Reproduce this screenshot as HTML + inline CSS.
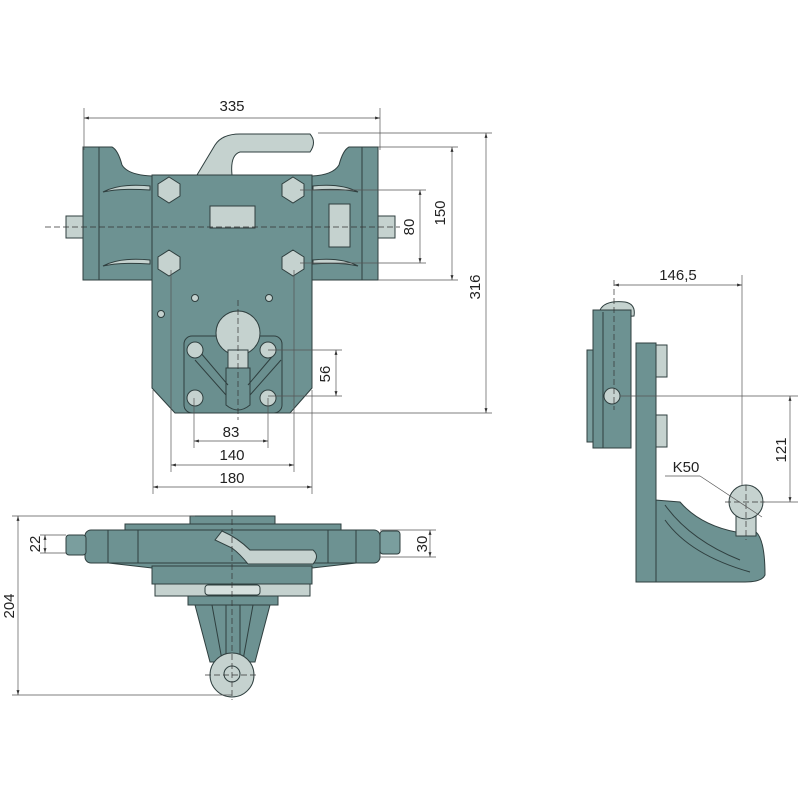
<!DOCTYPE html>
<html><head><meta charset="utf-8"><style>
html,body{margin:0;padding:0;background:#fff;width:800px;height:800px;overflow:hidden}
svg{display:block}
text{font-family:"Liberation Sans",sans-serif;font-size:15px;fill:#222}
</style></head><body>
<svg width="800" height="800" viewBox="0 0 800 800" xmlns="http://www.w3.org/2000/svg">
<defs>
<marker id="a" viewBox="0 0 10 10" refX="10" refY="5" markerWidth="7" markerHeight="7" orient="auto-start-reverse"><path d="M0,2 L10,5 L0,8z" fill="#333"/></marker>
</defs>
<g stroke="#2f3f3f" stroke-width="1">
<!-- FRONT VIEW -->
<!-- handle -->
<path d="M197,175 L215,145 Q222,134 240,134 L310,134 Q317,142 310,152 L240,152 Q230,155 232,175 Z" fill="#c5d2cf"/>
<!-- flanges -->
<path d="M83,147 L112,147 Q118,150 122,165 Q128,175 152,176 L152,280 L83,280 Z" fill="#6d9292"/>
<path d="M378,147 L349,147 Q343,150 339,165 Q333,175 312,176 L312,280 L378,280 Z" fill="#6d9292"/>
<line x1="99" y1="147" x2="99" y2="280"/><line x1="362" y1="147" x2="362" y2="280"/>
<path d="M103,192 Q120,183 150,186 L150,190 Q120,188 103,192Z" fill="#c5d2cf"/>
<path d="M103,266 Q120,257 150,260 L150,264 Q120,262 103,266Z" fill="#c5d2cf"/>
<path d="M358,192 Q341,183 313,186 L313,190 Q341,188 358,192Z" fill="#c5d2cf"/>
<path d="M358,266 Q341,257 313,260 L313,264 Q341,262 358,266Z" fill="#c5d2cf"/>
<rect x="66" y="216" width="17" height="22" fill="#c5d2cf"/>
<rect x="378" y="216" width="17" height="22" fill="#c5d2cf"/>
<!-- plate -->
<path d="M152,175 L312,175 L312,388 L290,413 L175,413 L152,388 Z" fill="#6d9292"/>
<rect x="210" y="206" width="45" height="22" fill="#c5d2cf"/>
<rect x="329" y="204" width="21" height="43" fill="#c5d2cf"/>
<g fill="#c5d2cf">
<polygon points="169,177 180,184 180,196 169,203 158,196 158,184"/>
<polygon points="293,177 304,184 304,196 293,203 282,196 282,184"/>
<polygon points="169,250 180,257 180,269 169,276 158,269 158,257"/>
<polygon points="293,250 304,257 304,269 293,276 282,269 282,257"/>
</g>
<g fill="#c5d2cf"><circle cx="195" cy="298" r="3.5"/><circle cx="269" cy="298" r="3.5"/><circle cx="161" cy="314" r="3.5"/></g>
<!-- coupling -->
<rect x="184" y="336" width="98" height="77" rx="8" fill="#6a8f8f"/>
<circle cx="238" cy="333" r="22" fill="#c5d2cf"/>
<rect x="228" y="350" width="20" height="20" fill="#c5d2cf"/>
<path d="M226,368 L250,368 L250,405 Q238,415 226,405Z" fill="#6d9292"/>
<path d="M195,360 L226,395 M281,360 L250,395 M200,352 L228,385 M276,352 L248,385" fill="none"/>
<g fill="#c5d2cf"><circle cx="195" cy="350" r="8"/><circle cx="268" cy="350" r="8"/><circle cx="195" cy="398" r="8"/><circle cx="268" cy="398" r="8"/></g>
</g>
<!-- front centerlines -->
<g stroke="#333" stroke-width="0.7" stroke-dasharray="6,3" fill="none">
<line x1="45" y1="227" x2="400" y2="227"/>
<line x1="238" y1="300" x2="238" y2="420"/>
</g>
<!-- front dims -->
<g stroke="#555" stroke-width="0.7" fill="none">
<line x1="84" y1="108" x2="84" y2="150"/><line x1="380" y1="108" x2="380" y2="150"/>
<line x1="84" y1="118" x2="380" y2="118" marker-start="url(#a)" marker-end="url(#a)"/>
<line x1="318" y1="133" x2="492" y2="133"/><line x1="378" y1="147" x2="458" y2="147"/><line x1="378" y1="280" x2="458" y2="280"/>
<line x1="452" y1="147" x2="452" y2="280" marker-start="url(#a)" marker-end="url(#a)"/>
<line x1="300" y1="190" x2="426" y2="190"/><line x1="300" y1="263" x2="426" y2="263"/>
<line x1="420" y1="190" x2="420" y2="263" marker-start="url(#a)" marker-end="url(#a)"/>
<line x1="290" y1="413" x2="492" y2="413"/>
<line x1="486" y1="133" x2="486" y2="413" marker-start="url(#a)" marker-end="url(#a)"/>
<line x1="268" y1="350" x2="342" y2="350"/><line x1="268" y1="396" x2="342" y2="396"/>
<line x1="336" y1="350" x2="336" y2="396" marker-start="url(#a)" marker-end="url(#a)"/>
<line x1="194" y1="398" x2="194" y2="448"/><line x1="268" y1="398" x2="268" y2="448"/>
<line x1="194" y1="441" x2="268" y2="441" marker-start="url(#a)" marker-end="url(#a)"/>
<line x1="171" y1="270" x2="171" y2="472"/><line x1="294" y1="270" x2="294" y2="472"/>
<line x1="171" y1="465" x2="294" y2="465" marker-start="url(#a)" marker-end="url(#a)"/>
<line x1="153" y1="390" x2="153" y2="494"/><line x1="312" y1="390" x2="312" y2="494"/>
<line x1="153" y1="487" x2="312" y2="487" marker-start="url(#a)" marker-end="url(#a)"/>
</g>
<text x="232" y="111" text-anchor="middle">335</text>
<text transform="translate(445,213) rotate(-90)" text-anchor="middle">150</text>
<text transform="translate(414,227) rotate(-90)" text-anchor="middle">80</text>
<text transform="translate(480,287) rotate(-90)" text-anchor="middle">316</text>
<text transform="translate(330,374) rotate(-90)" text-anchor="middle">56</text>
<text x="231" y="437" text-anchor="middle">83</text>
<text x="232" y="460" text-anchor="middle">140</text>
<text x="232" y="483" text-anchor="middle">180</text>

<!-- BOTTOM VIEW -->
<g stroke="#2f3f3f" stroke-width="1">
<rect x="190" y="516" width="85" height="9" fill="#6d9292"/>
<rect x="125" y="524" width="216" height="8" fill="#6d9292"/>
<path d="M100,562 L365,562 L312,568 L152,568 Z" fill="#6d9292"/>
<rect x="85" y="530" width="295" height="33" rx="6" fill="#6d9292"/>
<rect x="66" y="535" width="20" height="20" rx="3" fill="#7a9e9e"/>
<rect x="380" y="531" width="20" height="23" rx="3" fill="#7a9e9e"/>
<line x1="108" y1="530" x2="108" y2="563"/><line x1="138" y1="530" x2="138" y2="563"/><line x1="328" y1="530" x2="328" y2="563"/><line x1="356" y1="530" x2="356" y2="563"/>
<path d="M215,540 L222,531 Q238,538 250,550 L313,550 Q320,556 313,564 L248,564 Q240,554 232,548 Z" fill="#c5d2cf"/>
<rect x="152" y="566" width="160" height="18" fill="#6d9292"/>
<rect x="155" y="584" width="155" height="12" fill="#c5d2cf"/>
<rect x="205" y="585" width="55" height="10" rx="3" fill="#d6e0de"/>
<rect x="188" y="596" width="90" height="9" fill="#6d9292"/>
<path d="M195,605 L270,605 L255,662 L210,662 Z" fill="#6d9292"/>
<path d="M212,605 L222,660 M253,605 L243,660 M226,605 L226,660 M240,605 L240,660" fill="none"/>
<circle cx="232" cy="675" r="22" fill="#c5d2cf"/>
<circle cx="232" cy="674" r="8" fill="none"/>
</g>
<g stroke="#333" stroke-width="0.7" stroke-dasharray="6,3" fill="none">
<line x1="232" y1="510" x2="232" y2="700"/><line x1="205" y1="675" x2="258" y2="675"/>
</g>
<g stroke="#555" stroke-width="0.7" fill="none">
<line x1="12" y1="516" x2="195" y2="516"/><line x1="12" y1="695" x2="232" y2="695"/>
<line x1="18" y1="516" x2="18" y2="695" marker-start="url(#a)" marker-end="url(#a)"/>
<line x1="40" y1="535" x2="66" y2="535"/><line x1="40" y1="553" x2="66" y2="553"/>
<line x1="45" y1="535" x2="45" y2="553" marker-start="url(#a)" marker-end="url(#a)"/>
<line x1="380" y1="530" x2="436" y2="530"/><line x1="380" y1="557" x2="436" y2="557"/>
<line x1="430" y1="530" x2="430" y2="557" marker-start="url(#a)" marker-end="url(#a)"/>
</g>
<text transform="translate(14,606) rotate(-90)" text-anchor="middle">204</text>
<text transform="translate(40,544) rotate(-90)" text-anchor="middle">22</text>
<text transform="translate(427,544) rotate(-90)" text-anchor="middle">30</text>

<!-- SIDE VIEW -->
<g stroke="#2f3f3f" stroke-width="1">
<path d="M600,310 Q605,300 625,302 Q636,304 634,316 L600,318Z" fill="#c5d2cf"/>
<rect x="587" y="350" width="10" height="92" fill="#7a9e9e"/>
<rect x="593" y="310" width="38" height="138" fill="#6d9292"/>
<line x1="603" y1="312" x2="603" y2="448"/>
<circle cx="612" cy="396" r="8" fill="#c5d2cf"/>
<rect x="655" y="345" width="12" height="32" fill="#c5d2cf"/>
<rect x="655" y="415" width="12" height="32" fill="#c5d2cf"/>
<path d="M655,500 L680,502 Q700,525 736,532 L756,532 Q765,540 765,575 Q762,582 745,582 L655,582Z" fill="#6d9292"/>
<path d="M665,505 Q690,540 740,560 M665,520 Q690,555 750,572" fill="none"/>
<rect x="636" y="343" width="20" height="239" fill="#6d9292"/>
<rect x="736" y="514" width="20" height="22" fill="#c5d2cf"/>
<circle cx="746" cy="502" r="17" fill="#c5d2cf"/>
</g>
<g stroke="#333" stroke-width="0.7" stroke-dasharray="6,3" fill="none">
<line x1="614" y1="280" x2="614" y2="410"/>
<line x1="746" y1="485" x2="746" y2="540"/><line x1="725" y1="502" x2="765" y2="502"/>
</g>
<g stroke="#555" stroke-width="0.7" fill="none">
<line x1="742" y1="275" x2="742" y2="485"/>
<line x1="614" y1="285" x2="742" y2="285" marker-start="url(#a)" marker-end="url(#a)"/>
<line x1="620" y1="396" x2="798" y2="396"/><line x1="760" y1="502" x2="798" y2="502"/>
<line x1="790" y1="396" x2="790" y2="502" marker-start="url(#a)" marker-end="url(#a)"/>
<line x1="665" y1="476" x2="700" y2="476"/><line x1="700" y1="476" x2="762" y2="517"/>
</g>
<text x="678" y="280" text-anchor="middle">146,5</text>
<text transform="translate(786,450) rotate(-90)" text-anchor="middle">121</text>
<text x="686" y="472" text-anchor="middle">K50</text>
</svg>
</body></html>
